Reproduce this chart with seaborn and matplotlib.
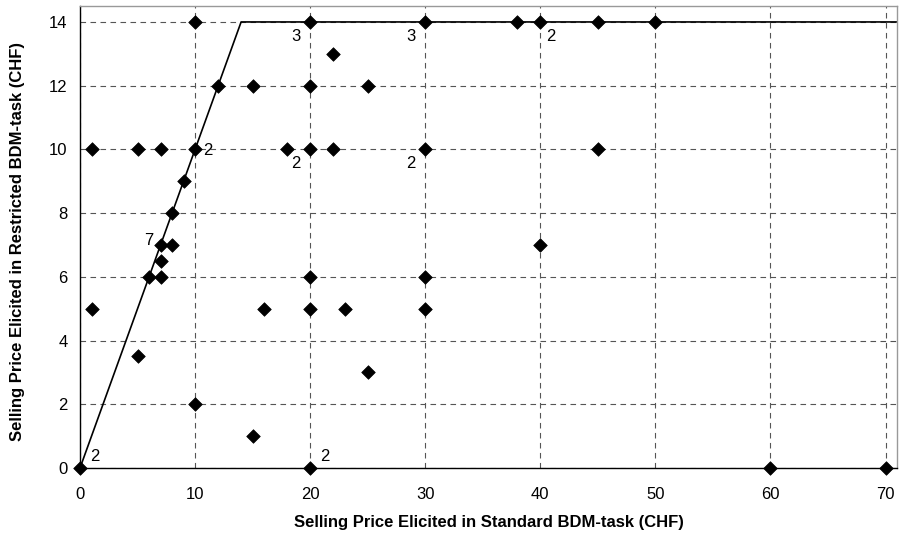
import pandas as pd
import seaborn as sns
import matplotlib.pyplot as plt

# Selling prices (CHF): standard BDM-task (x) vs restricted BDM-task (y)
standard = [10, 20, 30, 38, 40, 45, 50,
            22,
            12, 15, 20, 25,
            1, 5, 7, 10, 18, 20, 22, 30, 45,
            9, 8,
            7, 8, 40,
            7,
            6, 7, 20, 30,
            1, 16, 20, 23, 30,
            5, 25, 10, 15,
            0, 20, 60, 70]
restricted = [14, 14, 14, 14, 14, 14, 14,
              13,
              12, 12, 12, 12,
              10, 10, 10, 10, 10, 10, 10, 10, 10,
              9, 8,
              7, 7, 7,
              6.5,
              6, 6, 6, 6,
              5, 5, 5, 5, 5,
              3.5, 3, 2, 1,
              0, 0, 0, 0]

# frequency labels for repeated observations
count_x = [20, 30, 40, 10, 20, 30, 7, 0, 20]
count_y = [14, 14, 14, 10, 10, 10, 7, 0, 0]
count_text = ['3', '3', '2', '2', '2', '2', '7', '2', '2']
count_pos = ['bl', 'bl', 'br', 'r', 'bl', 'bl', 'l', 'tr', 'tr']

# restriction line: y = x capped at 14
cap_x = [0, 14, 71]
cap_y = [0, 14, 14]

df = pd.DataFrame({'standard': standard, 'restricted': restricted})

sns.set_style('white')
plt.rcParams['font.family'] = ['Liberation Sans', 'DejaVu Sans']
plt.rcParams['text.color'] = 'black'
plt.rcParams['axes.labelcolor'] = 'black'
plt.rcParams['xtick.color'] = 'black'
plt.rcParams['ytick.color'] = 'black'

fig = plt.figure(figsize=(9, 5.37), dpi=100)
ax = fig.add_axes([0.0889, 0.1285, 0.9078, 0.8603])

ax.plot(cap_x, cap_y, color='black', lw=1.2, zorder=2)
sns.scatterplot(data=df, x='standard', y='restricted', marker='D', color='black',
                s=48, edgecolor='black', linewidth=0.5, ax=ax, zorder=3, clip_on=False)

offsets = {'bl': (-7, -5, 'right', 'top'), 'br': (4, -5, 'left', 'top'),
           'r': (6, -1, 'left', 'center'), 'l': (-5, 3, 'right', 'center'),
           'tr': (7, 3, 'left', 'bottom')}
for x, y, t, p in zip(count_x, count_y, count_text, count_pos):
    dx, dy, ha, va = offsets[p]
    ax.annotate(t, (x, y), xytext=(dx, dy), textcoords='offset points',
                ha=ha, va=va, fontsize=12)

ax.set_xlim(0, 71)
ax.set_ylim(0, 14.5)
ax.set_xticks(range(0, 71, 10))
ax.set_yticks(range(0, 15, 2))
ax.grid(True, color='#555555', ls=(0, (5, 4)), lw=0.8)
ax.set_axisbelow(True)
ax.tick_params(direction='out', length=4, width=0.8, labelsize=12)
ax.tick_params(axis='x', pad=10)
ax.tick_params(axis='y', pad=5)

for side in ['left', 'bottom']:
    ax.spines[side].set_color('black')
    ax.spines[side].set_linewidth(1.0)
for side in ['top', 'right']:
    ax.spines[side].set_color('#999999')
    ax.spines[side].set_linewidth(1.0)

ax.set_xlabel('Selling Price Elicited in Standard BDM-task (CHF)', fontsize=12,
              fontweight='bold')
ax.set_ylabel('Selling Price Elicited in Restricted BDM-task (CHF)', fontsize=12,
              fontweight='bold')
ax.xaxis.set_label_coords(0.5, -0.102)
ax.yaxis.set_label_coords(-0.067, 0.49)

fig.savefig('out.png', dpi=100)
